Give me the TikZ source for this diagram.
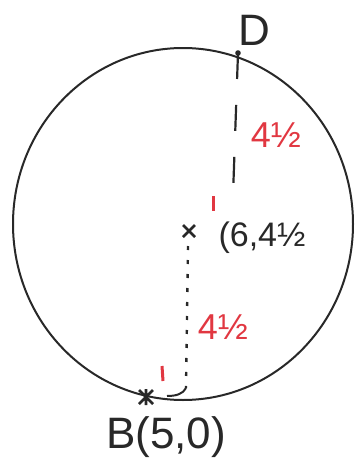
\documentclass[tikz,border=0pt]{standalone}
\usepackage{fontspec}
\setmainfont{Liberation Sans}
\definecolor{ink}{RGB}{40,40,40}
\definecolor{redink}{RGB}{225,55,65}
\begin{document}
\begin{tikzpicture}[x=1pt,y=-1pt,
  curve/.style={draw=ink,line width=2pt},
  dashline/.style={draw=ink,line width=2.2pt,dash pattern=on 26pt off 26pt},
  dotline/.style={draw=ink,line width=2.4pt,dash pattern=on 4pt off 10pt},
  lab/.style={inner sep=0pt,text=ink,font=\fontsize{44}{48}\selectfont},
  clab/.style={inner sep=0pt,text=ink,font=\fontsize{34}{38}\selectfont},
  rlab/.style={inner sep=0pt,text=redink,font=\fontsize{36}{40}\selectfont},
  rtick/.style={draw=redink,line width=3pt},
  crossmark/.style={draw=ink,line width=2.8pt}]
\useasboundingbox (0,0) rectangle (355,466);
% circle
\coordinate (O) at (183,224);
\draw[curve] (O) ellipse [x radius=170, y radius=176];
% points
\coordinate (Dp) at (238,53);
\coordinate (De) at (233,195);
\coordinate (C) at (189,231);
\coordinate (Cs) at (188,246);
\coordinate (Ce) at (186,388);
\coordinate (Bp) at (146,397);
\coordinate (Ba) at (167,396);
\coordinate (Bb) at (186,388);
\fill[ink] (Dp) circle (2.8);
% labels
\node[lab] (D) at (254,30) {D};
\node[lab] (Blab) at (166,437) {B(5,0)};
\node[clab] (Clab) at (262,238) {(6,4½};
\node[rlab] (r1) at (276,135) {4½};
\node[rlab] (r2) at (223,327) {4½};
% dashed radius to D
\draw[dashline] (Dp) -- (De);
% dotted radius to B
\draw[dotline] (Cs) -- (Ce);
\draw[curve] (Ba) .. controls (176,396) and (183,394) .. (Bb);
% crosses
\draw[crossmark] ([shift={(-6,-6)}]C) -- ([shift={(6,6)}]C) ([shift={(-6,6)}]C) -- ([shift={(6,-6)}]C);
\draw[crossmark] ([shift={(-7,-7)}]Bp) -- ([shift={(7,7)}]Bp) ([shift={(-7,7)}]Bp) -- ([shift={(7,-7)}]Bp) ([shift={(0,-8)}]Bp) -- ([shift={(0,8)}]Bp);
% red ticks
\coordinate (t1a) at (213,196);
\coordinate (t1b) at (213,211);
\coordinate (t2a) at (162,366);
\coordinate (t2b) at (163,381);
\draw[rtick] (t1a) -- (t1b);
\draw[rtick] (t2a) -- (t2b);
\end{tikzpicture}
\end{document}
